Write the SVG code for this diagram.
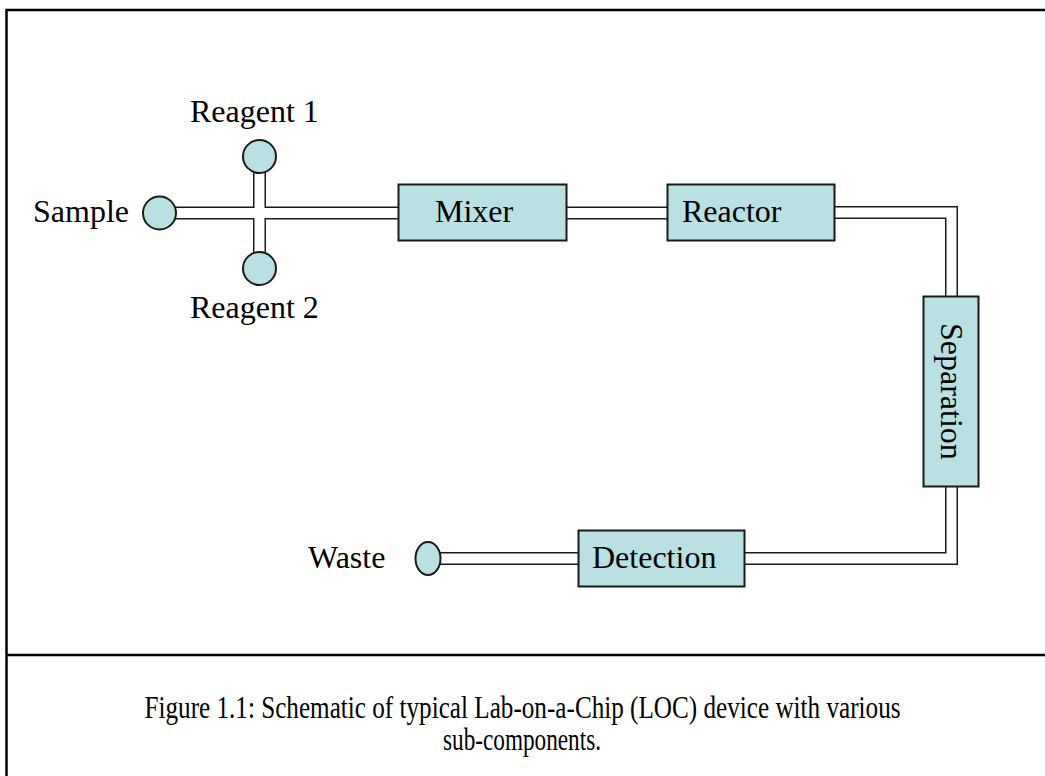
<svg xmlns="http://www.w3.org/2000/svg" width="1045" height="776" viewBox="0 0 1045 776">
  <style>
    .lbl { font-family: "Liberation Serif", "Times New Roman", serif; font-size: 32px; fill: #000; }
    .cap { font-family: "Liberation Serif", "Times New Roman", serif; font-size: 31px; fill: #000; }
    .box { fill: #B9E0E3; stroke: #1a1a1a; stroke-width: 2; }
    .port { fill: #B9E0E3; stroke: #1a1a1a; stroke-width: 2; }
    .wall { fill: none; stroke: #1a1a1a; stroke-width: 13; stroke-linejoin: miter; }
    .bore { fill: none; stroke: #fff; stroke-width: 10; stroke-linejoin: miter; }
    .frame { fill: none; stroke: #000; stroke-width: 2.5; }
  </style>

  <rect width="1045" height="776" fill="#fff"/>

  <!-- figure frame -->
  <g id="frame">
    <path class="frame" d="M6.5 776 V10 H1045"/>
    <path class="frame" d="M6.5 655 H1045"/>
  </g>

  <!-- microchannels: dark walls first, then the open bore on top -->
  <g id="connectors">
    <path class="wall" d="M159 213 H400"/>
    <path class="wall" d="M259.5 156 V268"/>
    <path class="wall" d="M565 213 H669"/>
    <path class="wall" d="M833 212.5 H951.5 V298"/>
    <path class="wall" d="M951.5 485 V558.5 H743"/>
    <path class="wall" d="M580 558.5 H428"/>
    <path class="bore" d="M159 213 H400"/>
    <path class="bore" d="M259.5 156 V268"/>
    <path class="bore" d="M565 213 H669"/>
    <path class="bore" d="M833 212.5 H951.5 V298"/>
    <path class="bore" d="M951.5 485 V558.5 H743"/>
    <path class="bore" d="M580 558.5 H428"/>
  </g>

  <g id="sample">
    <circle class="port" cx="159.5" cy="213" r="16.5"/>
    <text class="lbl" x="33" y="222">Sample</text>
  </g>

  <g id="reagent1">
    <circle class="port" cx="259.5" cy="156.5" r="16.5"/>
    <text class="lbl" x="190" y="122">Reagent 1</text>
  </g>

  <g id="reagent2">
    <circle class="port" cx="259.5" cy="268.5" r="16.5"/>
    <text class="lbl" x="190" y="318">Reagent 2</text>
  </g>

  <g id="mixer">
    <rect class="box" x="398.5" y="184.5" width="168" height="56"/>
    <text class="lbl" x="435" y="222">Mixer</text>
  </g>

  <g id="reactor">
    <rect class="box" x="667.5" y="184.5" width="167" height="56"/>
    <text class="lbl" x="682" y="222">Reactor</text>
  </g>

  <g id="separation">
    <rect class="box" x="923.5" y="296.5" width="55" height="190"/>
    <text class="lbl" transform="translate(941 323) rotate(90)" x="0" y="0">Separation</text>
  </g>

  <g id="detection">
    <rect class="box" x="578.5" y="530.5" width="166" height="56"/>
    <text class="lbl" x="592" y="568">Detection</text>
  </g>

  <g id="waste">
    <ellipse class="port" cx="428" cy="558.5" rx="12.5" ry="16.5"/>
    <text class="lbl" x="308" y="568">Waste</text>
  </g>

  <g id="caption">
    <text class="cap" x="522.5" y="718" text-anchor="middle" textLength="756" lengthAdjust="spacingAndGlyphs">Figure 1.1: Schematic of typical Lab-on-a-Chip (LOC) device with various</text>
    <text class="cap" x="522" y="750" text-anchor="middle" textLength="158" lengthAdjust="spacingAndGlyphs">sub-components.</text>
  </g>
</svg>
